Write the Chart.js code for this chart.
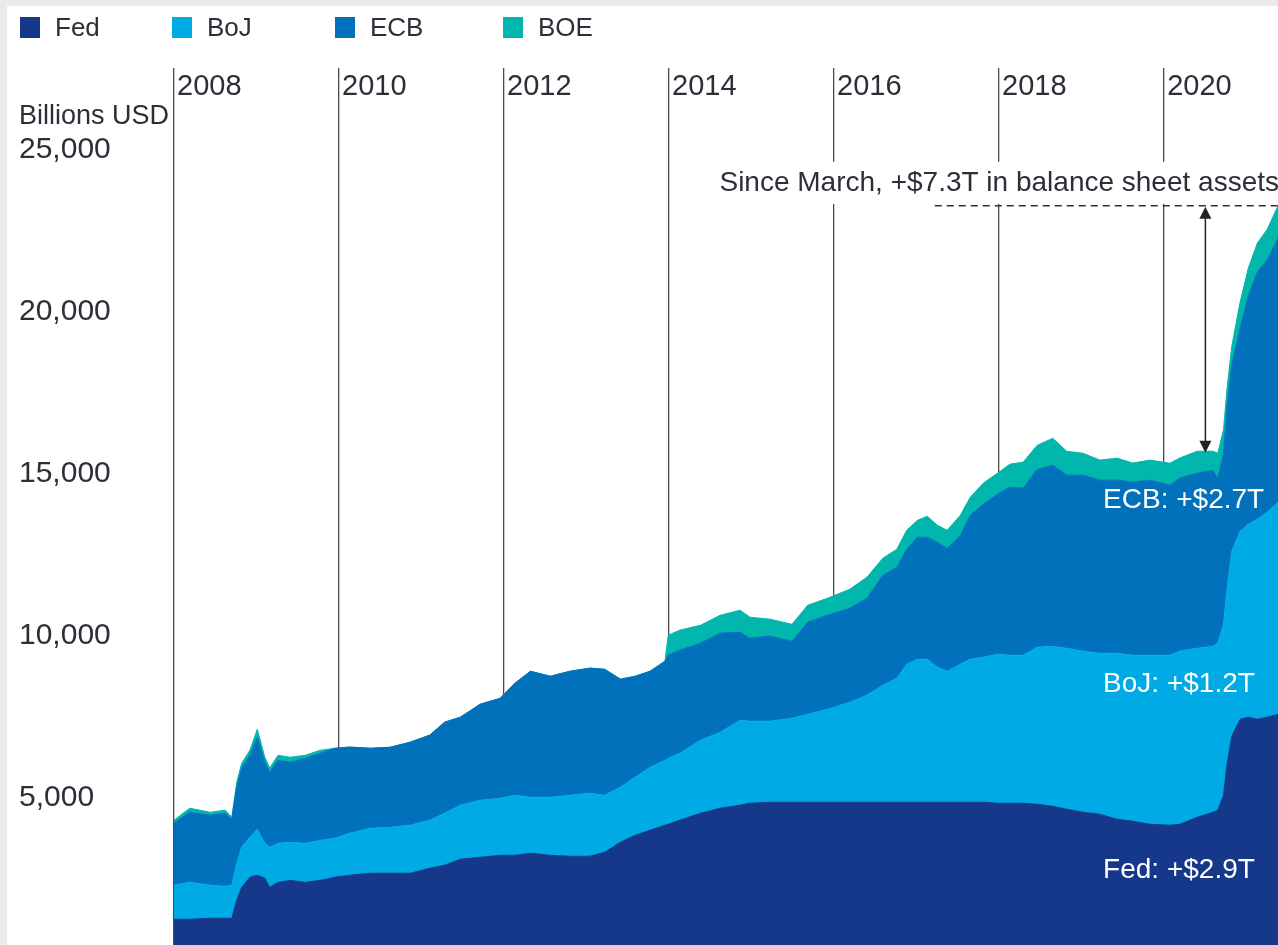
<!DOCTYPE html>
<html>
<head>
<meta charset="utf-8">
<script src="https://cdn.jsdelivr.net/npm/chart.js@4/dist/chart.umd.min.js"></script>
<style>
  html, body { margin: 0; padding: 0; overflow: hidden; background: #ebebee; width: 1278px; height: 945px; }
  #panel { position: absolute; left: 7px; top: 6px; width: 1271px; height: 939px; background: #fff; }
  #chart { position: absolute; left: 0; top: 0; }
  .key { position: absolute; top: 14px; height: 26px; display: flex; align-items: center;
         font: 26px 'Liberation Sans', Arial, sans-serif; color: #2e2e38; }
  .key i { display: inline-block; width: 20px; height: 21px; margin-right: 15px; }
</style>
</head>
<body>
<div id="panel"></div>
<canvas id="chart" width="1278" height="960"></canvas>
<div class="key" style="left:20px"><i style="background:#15388a"></i>Fed</div>
<div class="key" style="left:172px"><i style="background:#00abe5"></i>BoJ</div>
<div class="key" style="left:335px"><i style="background:#0071ba"></i>ECB</div>
<div class="key" style="left:503px"><i style="background:#00b6ad"></i>BOE</div>
<script>
// === DATA (billions USD) ===
const years = [
    2008.00, 2008.19, 2008.44, 2008.62, 2008.70, 2008.76, 2008.82, 2008.92, 2009.01, 2009.10,
    2009.16, 2009.26, 2009.41, 2009.59, 2009.77, 2009.95, 2010.13, 2010.38, 2010.62, 2010.86,
    2011.10, 2011.28, 2011.47, 2011.71, 2011.95, 2012.13, 2012.32, 2012.56, 2012.80, 2013.04,
    2013.22, 2013.41, 2013.59, 2013.77, 2013.95, 2013.99, 2014.13, 2014.38, 2014.62, 2014.86,
    2014.98, 2015.22, 2015.49, 2015.68, 2015.92, 2016.19, 2016.40, 2016.59, 2016.76, 2016.88,
    2017.01, 2017.13, 2017.25, 2017.37, 2017.53, 2017.65, 2017.81, 2017.98, 2018.13, 2018.29,
    2018.46, 2018.65, 2018.82, 2019.02, 2019.22, 2019.43, 2019.62, 2019.83, 2020.07, 2020.19,
    2020.40, 2020.59, 2020.65, 2020.72, 2020.76, 2020.82, 2020.92, 2021.02, 2021.13, 2021.25,
    2021.38
];
const fedValues = [
    1230, 1230, 1260, 1260, 1260, 1820, 2220, 2530, 2590, 2500,
    2220, 2370, 2430, 2370, 2430, 2530, 2590, 2650, 2650, 2650,
    2805, 2900, 3085, 3145, 3205, 3205, 3270, 3205, 3175, 3175,
    3300, 3610, 3825, 3980, 4135, 4165, 4290, 4505, 4660, 4755,
    4815, 4845, 4845, 4845, 4845, 4845, 4845, 4845, 4845, 4845,
    4845, 4845, 4845, 4845, 4845, 4845, 4845, 4815, 4815, 4815,
    4785, 4720, 4630, 4535, 4475, 4320, 4260, 4165, 4135, 4165,
    4380, 4535, 4600, 5060, 5990, 6885, 7410, 7475, 7410, 7475,
    7565
];
const bojValues = [
    1050, 1140, 1020, 990, 1020, 1140, 1235, 1235, 1420, 1080,
    1235, 1205, 1175, 1205, 1235, 1205, 1300, 1390, 1420, 1485,
    1485, 1605, 1670, 1760, 1760, 1855, 1730, 1795, 1885, 1950,
    1760, 1700, 1795, 1945, 2010, 2040, 2070, 2255, 2350, 2625,
    2535, 2505, 2595, 2720, 2875, 3090, 3310, 3615, 3835, 4265,
    4420, 4420, 4175, 4050, 4265, 4420, 4485, 4605, 4575, 4575,
    4850, 4945, 4975, 4975, 4975, 5130, 5130, 5225, 5255, 5350,
    5225, 5130, 5160, 5285, 5410, 5720, 5810, 5965, 6185, 6335,
    6555
];
const ecbValues = [
    1925, 2165, 2165, 2255, 2040, 2350, 2440, 2535, 2845, 2505,
    2320, 2565, 2475, 2630, 2690, 2780, 2660, 2475, 2475, 2565,
    2630, 2815, 2720, 2970, 3090, 3460, 3895, 3740, 3835, 3865,
    3895, 3340, 3120, 2970, 3060, 3185, 3185, 3000, 3060, 2720,
    2565, 2630, 2380, 2845, 2905, 2905, 3000, 3400, 3430, 3555,
    3770, 3770, 3865, 3800, 3985, 4450, 4730, 4945, 5195, 5160,
    5500, 5595, 5350, 5440, 5350, 5350, 5350, 5410, 5255, 5350,
    5410, 5440, 5100, 5285, 5595, 5750, 6275, 7060, 7635, 7795,
    8160
];
const boeValues = [
    85, 125, 90, 95, 60, 150, 155, 155, 245, 155,
    125, 155, 155, 90, 95, 0, 0, 0, 0, 0,
    0, 0, 0, 0, 0, 0, 0, 0, 0, 0,
    0, 0, 0, 0, 0, 620, 620, 555, 555, 680,
    650, 525, 525, 525, 525, 590, 650, 525, 555, 585,
    525, 650, 525, 555, 620, 555, 650, 650, 710, 805,
    740, 835, 740, 680, 620, 680, 590, 620, 680, 620,
    680, 590, 775, 740, 585, 585, 800, 850, 900, 950,
    1000
];
const yearTicks = [2008, 2010, 2012, 2014, 2016, 2018, 2020];
const valueTicks = [5000, 10000, 15000, 20000, 25000];

// annotation anchors
const preMarchTotal = 15650;
const arrowYear = 2020.5;
const dashStartYear = 2017.22;
const labelYear = 2019.26;
const bankLabels = [
    { text: 'ECB: +$2.7T', value: 14180 },
    { text: 'BoJ: +$1.2T', value: 8490 },
    { text: 'Fed: +$2.9T', value: 2740 }
];

const TEXT = '#2e2e38';
const FONT = "'Liberation Sans', Arial, sans-serif";

const series = [
    { label: 'Fed', values: fedValues, color: '#15388a' },
    { label: 'BoJ', values: bojValues, color: '#00abe5' },
    { label: 'ECB', values: ecbValues, color: '#0071ba' },
    { label: 'BOE', values: boeValues, color: '#00b6ad' }
];

// === ANNOTATIONS ===
const annotations = {
    id: 'annotations',
    afterDatasetsDraw(chart) {
        const { ctx, chartArea, scales: { x, y } } = chart;
        const last = years.length - 1;
        const total = fedValues[last] + bojValues[last] + ecbValues[last] + boeValues[last];
        const topY = y.getPixelForValue(total);
        const botY = y.getPixelForValue(preMarchTotal);
        const right = chartArea.right;

        ctx.save();

        // headline with white backing over the grid lines
        const head = 'Since March, +$7.3T in balance sheet assets';
        ctx.font = '28px ' + FONT;
        const w = ctx.measureText(head).width;
        ctx.fillStyle = '#fff';
        ctx.fillRect(right - w - 8, topY - 44, w + 10, 42);
        ctx.fillStyle = TEXT;
        ctx.textAlign = 'right';
        ctx.textBaseline = 'middle';
        ctx.fillText(head, right + 1, topY - 23);

        // dashed level line
        ctx.strokeStyle = '#333';
        ctx.lineWidth = 1.5;
        ctx.setLineDash([7, 5]);
        ctx.beginPath();
        ctx.moveTo(x.getPixelForValue(dashStartYear), topY);
        ctx.lineTo(right, topY);
        ctx.stroke();
        ctx.setLineDash([]);

        // double arrow
        const ax = x.getPixelForValue(arrowYear);
        ctx.strokeStyle = '#222';
        ctx.fillStyle = '#222';
        ctx.beginPath();
        ctx.moveTo(ax, topY + 10);
        ctx.lineTo(ax, botY - 10);
        ctx.stroke();
        ctx.beginPath();
        ctx.moveTo(ax, topY + 1);
        ctx.lineTo(ax - 6, topY + 13);
        ctx.lineTo(ax + 6, topY + 13);
        ctx.closePath();
        ctx.fill();
        ctx.beginPath();
        ctx.moveTo(ax, botY);
        ctx.lineTo(ax - 6, botY - 12);
        ctx.lineTo(ax + 6, botY - 12);
        ctx.closePath();
        ctx.fill();

        // white labels inside the areas
        ctx.fillStyle = '#fff';
        ctx.textAlign = 'left';
        ctx.font = '28px ' + FONT;
        const lx = x.getPixelForValue(labelYear);
        bankLabels.forEach(l => ctx.fillText(l.text, lx, y.getPixelForValue(l.value)));

        // unit label over the top tick
        ctx.fillStyle = TEXT;
        ctx.font = '27px ' + FONT;
        ctx.fillText('Billions USD', y.left, y.getPixelForValue(25000) - 34);

        ctx.restore();
    }
};

// === CHART ===
new Chart(document.getElementById('chart'), {
    type: 'line',
    data: {
        datasets: series.map((s, i) => ({
            label: s.label,
            data: years.map((yr, k) => ({ x: yr, y: s.values[k] })),
            backgroundColor: s.color,
            borderColor: s.color,
            borderWidth: 1,
            fill: i === 0 ? 'origin' : '-1',
            pointRadius: 0,
            tension: 0
        }))
    },
    options: {
        responsive: false, animation: false, events: [],
        layout: { padding: { left: 19, top: 68, right: 0, bottom: 1 } },
        plugins: { legend: { display: false }, tooltip: { enabled: false } },
        scales: {
            x: {
                type: 'linear', position: 'top', min: 2008, max: 2021.38,
                afterBuildTicks: s => { s.ticks = yearTicks.map(v => ({ value: v })); },
                afterFit: s => { s.height = 0; s.paddingLeft = 0; s.paddingRight = 0; },
                border: { display: false },
                grid: { color: '#4a4a4a', lineWidth: 1.3, drawTicks: false },
                ticks: {
                    mirror: true, padding: 2, align: 'start', labelOffset: 3,
                    color: TEXT, font: { family: FONT, size: 29 },
                    callback: v => String(v)
                }
            },
            y: {
                stacked: true, min: 0, max: 27540,
                afterBuildTicks: s => { s.ticks = valueTicks.map(v => ({ value: v })); },
                afterFit: s => { s.width = 155; s.paddingTop = 0; s.paddingBottom = 0; },
                border: { display: false },
                grid: { display: false },
                ticks: {
                    crossAlign: 'far', color: TEXT, font: { family: FONT, size: 30 },
                    callback: v => v.toLocaleString('en-US')
                }
            }
        }
    },
    plugins: [annotations]
});
</script>
</body>
</html>
